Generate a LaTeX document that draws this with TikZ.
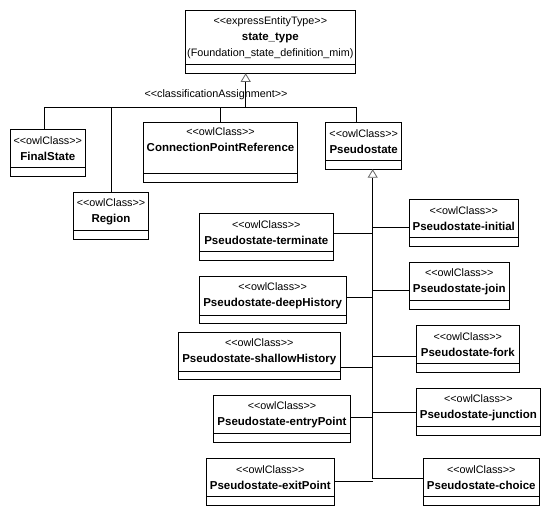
\documentclass[tikz,border=0pt]{standalone}
\usepackage{fontspec}
\setmainfont{Liberation Sans}
\usetikzlibrary{arrows.meta,positioning}
\newcommand\clsname[1]{{\fontsize{11.5}{16}\selectfont\bfseries #1}}
\newcommand\stereo[1]{<{}<#1>{}>}

\begin{document}
\begin{tikzpicture}[x=1pt,y=-1pt,line width=0.8pt,
  every node/.style={font=\fontsize{10.8}{16}\selectfont},
  head/.style={draw,anchor=north west,align=center,inner sep=0pt,outer sep=0pt,minimum height=38.4pt},
  foot/.style={draw,inner sep=0pt,outer sep=0pt,minimum height=8.5pt},
  gen/.style={-{Triangle[open,length=8.5pt,width=10pt,color=black!60]}}]
\useasboundingbox (0,0) rectangle (550,515);

% classes
\node[head,minimum width=169.3pt,minimum height=54pt] (state) at (185.7,10.3) {\stereo{expressEntityType}\\ \clsname{state\_type}\\ (Foundation\_state\_definition\_mim)};
\node[foot,below=0pt of state,minimum width=169.3pt,minimum height=9pt] (statef) {};
\node[head,minimum width=75pt] (final) at (10.3,129.3) {\stereo{owlClass}\\ \clsname{FinalState}};
\node[foot,below=0pt of final,minimum width=75pt] (finalf) {};
\node[head,minimum width=74.6pt] (region) at (73.7,192.3) {\stereo{owlClass}\\ \clsname{Region}};
\node[foot,below=0pt of region,minimum width=74.6pt] (regionf) {};
\node[head,minimum width=153.6pt,minimum height=50.7pt] (cpr) at (143.7,122.3) {\stereo{owlClass}\\ \clsname{ConnectionPointReference}\\ \mbox{}};
\node[foot,below=0pt of cpr,minimum width=153.6pt,minimum height=9.3pt] (cprf) {};
\node[head,minimum width=76pt] (pseudo) at (325.7,122.3) {\stereo{owlClass}\\ \clsname{Pseudostate}};
\node[foot,below=0pt of pseudo,minimum width=76pt] (pseudof) {};

\node[head,minimum width=109pt] (init) at (409.3,199.3) {\stereo{owlClass}\\ \clsname{Pseudostate-initial}};
\node[foot,below=0pt of init,minimum width=109pt] (initf) {};
\node[head,minimum width=134pt] (term) at (199.3,213.3) {\stereo{owlClass}\\ \clsname{Pseudostate-terminate}};
\node[foot,below=0pt of term,minimum width=134pt] (termf) {};
\node[head,minimum width=100pt] (join) at (409.3,262.3) {\stereo{owlClass}\\ \clsname{Pseudostate-join}};
\node[foot,below=0pt of join,minimum width=100pt] (joinf) {};
\node[head,minimum width=146.7pt] (deep) at (199.3,276.7) {\stereo{owlClass}\\ \clsname{Pseudostate-deepHistory}};
\node[foot,below=0pt of deep,minimum width=146.7pt] (deepf) {};
\node[head,minimum width=103pt] (fork) at (416.3,325.3) {\stereo{owlClass}\\ \clsname{Pseudostate-fork}};
\node[foot,below=0pt of fork,minimum width=103pt] (forkf) {};
\node[head,minimum width=162pt] (shal) at (178.3,332.7) {\stereo{owlClass}\\ \clsname{Pseudostate-shallowHistory}};
\node[foot,below=0pt of shal,minimum width=162pt] (shalf) {};
\node[head,minimum width=123.3pt] (junc) at (416.7,388.3) {\stereo{owlClass}\\ \clsname{Pseudostate-junction}};
\node[foot,below=0pt of junc,minimum width=123.3pt] (juncf) {};
\node[head,minimum width=137.4pt] (entry) at (213.3,395.3) {\stereo{owlClass}\\ \clsname{Pseudostate-entryPoint}};
\node[foot,below=0pt of entry,minimum width=137.4pt] (entryf) {};
\node[head,minimum width=128pt] (exit) at (206.3,458.3) {\stereo{owlClass}\\ \clsname{Pseudostate-exitPoint}};
\node[foot,below=0pt of exit,minimum width=128pt] (exitf) {};
\node[head,minimum width=116pt] (choice) at (423.3,458.3) {\stereo{owlClass}\\ \clsname{Pseudostate-choice}};
\node[foot,below=0pt of choice,minimum width=116pt] (choicef) {};

% classification tree
\coordinate (bus) at (245.7,107.3);
\coordinate (busl) at (44.3,107.3);
\coordinate (busr) at (356.7,107.3);
\draw[gen] (bus) -- (bus |- statef.south);
\node (assign) at (216,94.3) {\stereo{classificationAssignment}};
\draw (busl) -- (busr);
\draw (busl) -- (busl |- final.north);
\draw (region.north |- bus) -- (region.north);
\draw (cpr.north |- bus) -- (cpr.north);
\draw (busr) -- (busr |- pseudo.north);

% pseudostate kinds
\coordinate (pend) at (372.7,478.7);
\draw[gen] (pend) -- (pend |- pseudof.south);
\foreach \n/\off in {term/20,deep/20.6,shal/34.6,entry/22,exit/23.4}
  \draw ([yshift=-\off pt]\n.north east) -- ([yshift=-\off pt]\n.north east -| pend);
\foreach \n/\off in {init/28.4,join/27.7,fork/31.4,junc/24.4,choice/20.4}
  \draw ([yshift=-\off pt]\n.north west -| pend) -- ([yshift=-\off pt]\n.north west);
\end{tikzpicture}
\end{document}
